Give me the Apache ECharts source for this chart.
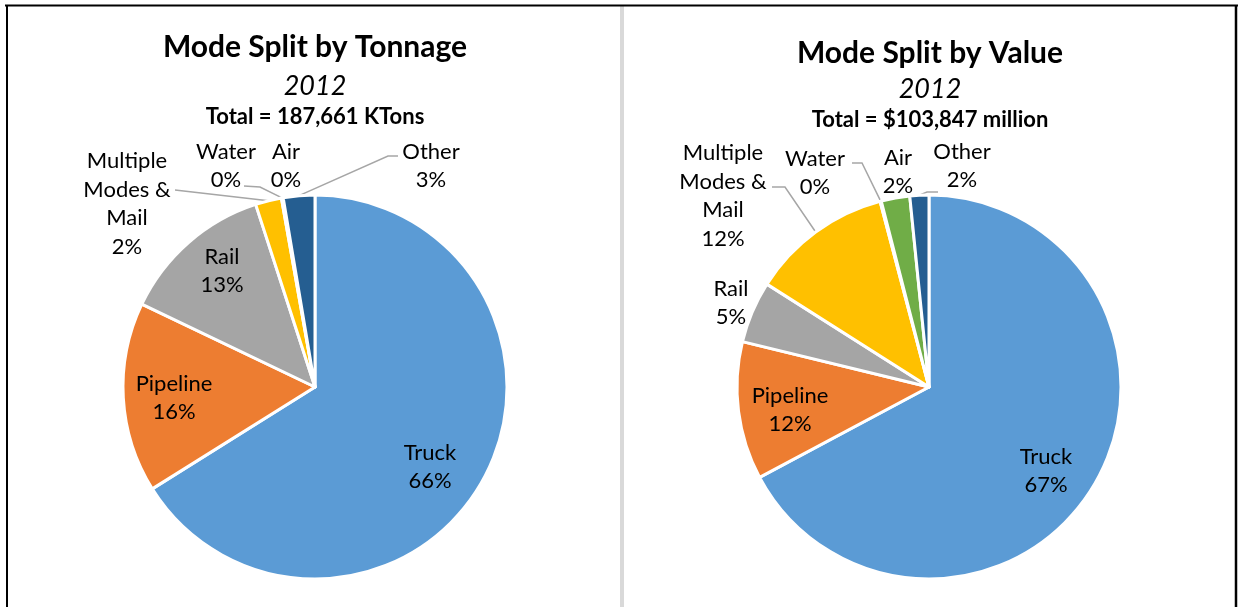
<!DOCTYPE html>
<html>
<head>
<meta charset="utf-8">
<script src="https://cdn.jsdelivr.net/npm/echarts@6/dist/echarts.min.js"></script>
<style>
    html, body {margin: 0; padding: 0; background: #fff;}
    #chart {width: 1238px; height: 607px;}
</style>
</head>
<body>
<div id="chart"></div>
<script>
// shares of each mode, in percent of the total
const modes = ['Truck', 'Pipeline', 'Rail', 'Multiple Modes & Mail', 'Water', 'Air', 'Other'];
const modeLabels = ['Truck', 'Pipeline', 'Rail', 'Multiple\nModes &\nMail', 'Water', 'Air', 'Other'];
const tonnageShare = [66.1, 16.0, 12.9, 2.2, 0.1, 0.05, 2.65];
const valueShare = [67.2, 11.6, 5.2, 11.9, 0.1, 2.4, 1.6];
const modeColors = ['#5B9BD5', '#ED7D31', '#A5A5A5', '#FFC000', '#4472C4', '#70AD47', '#255E91'];

const tonnageHeading = ['Mode Split by Tonnage', '2012', 'Total = 187,661 KTons'];
const valueHeading = ['Mode Split by Value', '2012', 'Total = $103,847 million'];

// where each label sits, and the leader line bends (slice point comes from echarts)
const tonnageSpots = [
    {x: 430, y: 467},
    {x: 174, y: 398},
    {x: 222, y: 271},
    {x: 127, y: 204, out: true, line: [[175, 190]]},
    {x: 226, y: 166, out: true, line: [[260, 187], [244, 186]]},
    {x: 286, y: 166, out: true},
    {x: 431, y: 166, out: true, line: [[388, 156], [398, 156]]}
];
const valueSpots = [
    {x: 1046, y: 471},
    {x: 790, y: 410},
    {x: 731, y: 303, out: true},
    {x: 723, y: 196, out: true, line: [[785, 187], [772, 187]]},
    {x: 815, y: 173, out: true, line: [[862, 163], [852, 163]]},
    {x: 898, y: 172, out: true},
    {x: 962, y: 166, out: true, line: [[927, 192], [938, 192]]}
];

const font = 'Lato, "Open Sans", sans-serif';

function pieData(shares, spots) {
    let list = [];
    for (let i = 0; i < modes.length; i++) {
        let spot = spots[i];
        list.push({
            name: modes[i],
            value: shares[i],
            itemStyle: {color: modeColors[i]},
            label: {position: spot.out ? 'outside' : 'inside'},
            labelLine: {show: !!spot.line}
        });
    }
    return list;
}

function placeLabels(spots) {
    return function (params) {
        let spot = spots[params.dataIndex];
        let res = {x: spot.x, y: spot.y, align: 'center', verticalAlign: 'middle'};
        if (spot.line && params.labelLinePoints) {
            res.labelLinePoints = [params.labelLinePoints[0]].concat(spot.line);
        }
        return res;
    };
}

function heading(lines, cx, shift) {
    return [
        {text: lines[0], left: cx, top: 29 + shift[0], textAlign: 'center', padding: 0,
            textStyle: {fontFamily: font, fontWeight: 'bold', fontSize: 30, lineHeight: 36, color: '#000'}},
        {text: lines[1], left: cx, top: 70 + shift[1], textAlign: 'center', padding: 0,
            textStyle: {fontFamily: font, fontStyle: 'italic', fontWeight: 'normal', fontSize: 27, lineHeight: 32, color: '#000'}},
        {text: lines[2], left: cx, top: 104 + shift[2], textAlign: 'center', padding: 0,
            textStyle: {fontFamily: font, fontWeight: 'bold', fontSize: 22, lineHeight: 26, color: '#000'}}
    ];
}

function pieSeries(shares, spots, cx) {
    return {
        type: 'pie',
        center: [cx, 387],
        radius: 192,
        startAngle: 90,
        clockwise: true,
        percentPrecision: 0,
        avoidLabelOverlap: false,
        silent: true,
        itemStyle: {borderColor: '#fff', borderWidth: 3},
        label: {
            fontFamily: font,
            fontSize: 22,
            lineHeight: 28.5,
            color: '#000',
            align: 'center',
            formatter: function (p) {
                return modeLabels[p.dataIndex] + '\n' + p.percent + '%';
            }
        },
        labelLine: {lineStyle: {color: '#A6A6A6', width: 1.5}, length: 10, length2: 10},
        labelLayout: placeLabels(spots),
        data: pieData(shares, spots)
    };
}

let chart = echarts.init(document.getElementById('chart'), null, {renderer: 'canvas'});
chart.setOption({
    animation: false,
    backgroundColor: '#fff',
    title: heading(tonnageHeading, 315, [0, 0, 0]).concat(heading(valueHeading, 930, [6, 3, 3])),
    graphic: [
        {type: 'rect', shape: {x: 620, y: 6, width: 4, height: 610}, style: {fill: '#D9D9D9'}},
        {type: 'line', shape: {x1: 5, y1: 5.5, x2: 1238, y2: 5.5}, style: {stroke: '#000', lineWidth: 2}},
        {type: 'line', shape: {x1: 7, y1: 5, x2: 7, y2: 610}, style: {stroke: '#000', lineWidth: 2}},
        {type: 'line', shape: {x1: 1236, y1: 5, x2: 1236, y2: 610}, style: {stroke: '#000', lineWidth: 2.5}}
    ],
    series: [
        pieSeries(tonnageShare, tonnageSpots, 315),
        pieSeries(valueShare, valueSpots, 929)
    ]
});
</script>
</body>
</html>
